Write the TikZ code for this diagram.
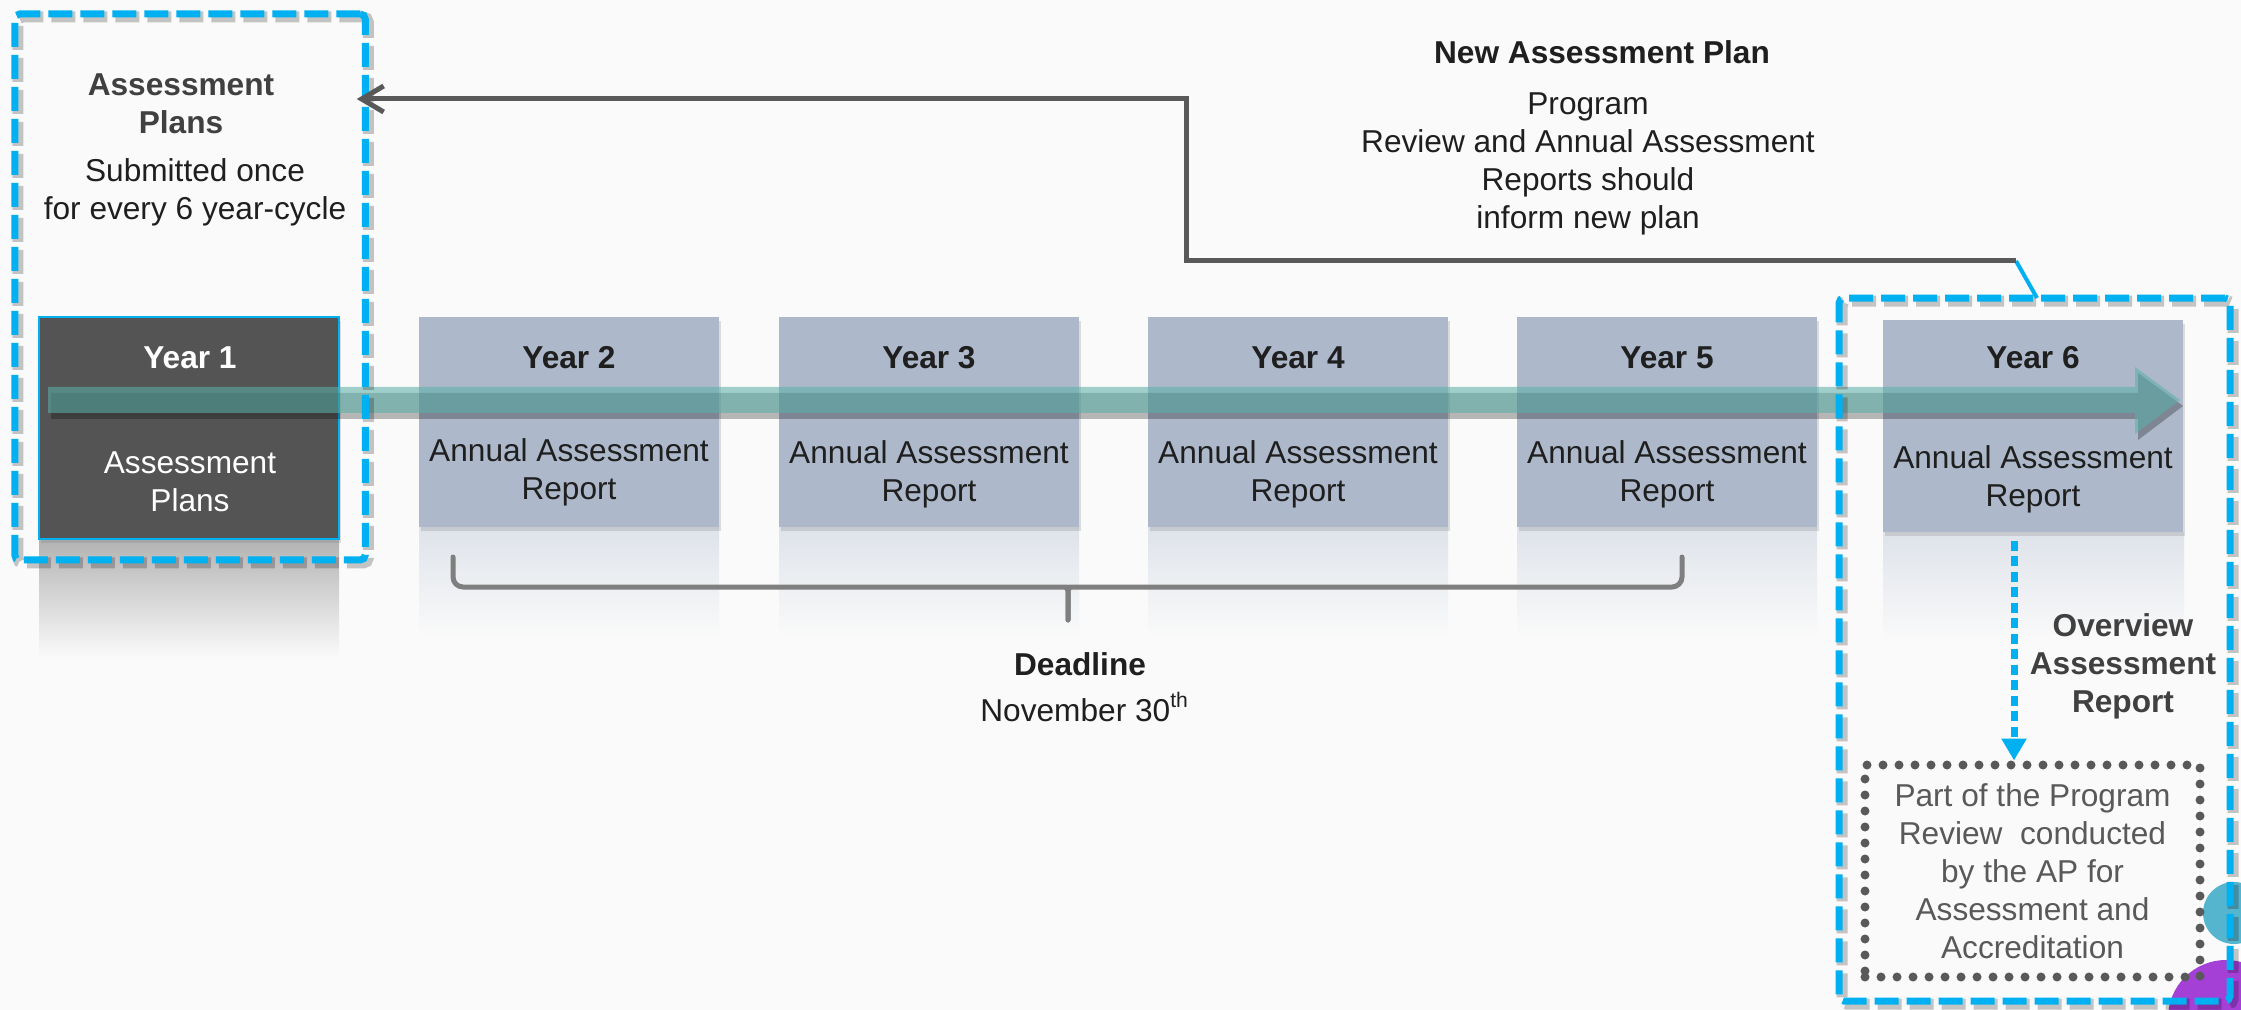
\documentclass[tikz,border=0pt]{standalone}
\usepackage{fontspec}
\setmainfont{Liberation Sans}
\usetikzlibrary{arrows.meta,shadows}

\definecolor{pagebg}{HTML}{FAFAFA}
\definecolor{yearfill}{HTML}{ADB9CA}
\definecolor{planfill}{HTML}{545454}
\definecolor{frameblue}{HTML}{00B0F0}
\definecolor{timeteal}{HTML}{5CB0A9}
\definecolor{textdark}{HTML}{1F1F1F}
\definecolor{textgray}{HTML}{404040}
\definecolor{linkgray}{HTML}{595959}
\definecolor{bracegray}{HTML}{7F7F7F}
\definecolor{tealdot}{HTML}{55B5CF}
\definecolor{purpledot}{HTML}{A540D6}

\newcommand{\diagfont}{\fontsize{9}{10.8}\selectfont}

\tikzset{
  every node/.style={font=\diagfont, inner sep=0pt, align=center},
  yearbox/.style={rectangle, fill=yearfill, minimum width=30mm, minimum height=21mm,
    drop shadow={shadow xshift=0.2mm, shadow yshift=-0.4mm, opacity=0.25}},
  planbox/.style={yearbox, fill=planfill, draw=frameblue, line width=0.2mm, minimum height=22.2mm},
  yeartitle/.style={font=\diagfont\bfseries, text=textdark},
  yearbody/.style={text=textdark},
  plantitle/.style={font=\diagfont\bfseries, text=white},
  planbody/.style={text=white},
  dashframe/.style={draw=frameblue, line width=0.7mm, dash pattern=on 2.4mm off 0.8mm, rounded corners=0.5mm,
    preaction={draw=black, opacity=0.22, line width=1.1mm, dash pattern=on 2.4mm off 0.8mm,
      transform canvas={xshift=0.3mm, yshift=-0.3mm}}},
  frametitle/.style={font=\diagfont\bfseries, text=textgray},
  headtext/.style={font=\diagfont\bfseries, text=textdark},
  bodytext/.style={text=textdark},
  fbline/.style={draw=linkgray, line width=0.5mm, -{Straight Barb[length=2.2mm, width=2.6mm]}},
  linkblue/.style={draw=frameblue, line width=0.4mm},
  bracket/.style={draw=bracegray, line width=0.5mm, rounded corners=1mm, line cap=round},
  dotbox/.style={draw=linkgray, line width=0.9mm, dash pattern=on 0pt off 1.6mm, line cap=round, text=linkgray},
  ovarrow/.style={draw=frameblue, line width=0.7mm, dash pattern=on 1mm off 0.55mm,
    -{Triangle[length=2.2mm, width=2.4mm]}}
}

\begin{document}
\begin{tikzpicture}[x=0.1mm, y=-0.1mm]
    % Page
    \fill[pagebg] (0,0) rectangle (2241,1010);
    \useasboundingbox (0,0) rectangle (2241,1010);

    % Reflections under the boxes
    \shade[top color=black!30, bottom color=pagebg] (39,539) rectangle (339,657);
    \shade[top color=yearfill!40, bottom color=pagebg] (419,527) rectangle (719,637);
    \shade[top color=yearfill!40, bottom color=pagebg] (779,527) rectangle (1079,637);
    \shade[top color=yearfill!40, bottom color=pagebg] (1148,527) rectangle (1448,637);
    \shade[top color=yearfill!40, bottom color=pagebg] (1517,527) rectangle (1817,637);
    \shade[top color=yearfill!40, bottom color=pagebg] (1883,532) rectangle (2184,642);

    % Year boxes
    \node[planbox] (y1) at (189,428) {};
    \node[yearbox] (y2) at (569,422) {};
    \node[yearbox] (y3) at (929,422) {};
    \node[yearbox] (y4) at (1298,422) {};
    \node[yearbox] (y5) at (1667,422) {};
    \node[yearbox, minimum height=21.2mm] (y6) at (2033,426) {};

    \node[plantitle] (y1t) at (190,358) {Year 1};
    \node[planbody] (y1b) at (190,482) {Assessment\\Plans};
    \node[yeartitle] (y2t) at (569,358) {Year 2};
    \node[yearbody] (y2b) at (569,472) {Annual Assessment\\Report};
    \node[yeartitle] (y3t) at (929,358) {Year 3};
    \node[yearbody] (y3b) at (929,474) {Annual Assessment\\Report};
    \node[yeartitle] (y4t) at (1298,358) {Year 4};
    \node[yearbody] (y4b) at (1298,474) {Annual Assessment\\Report};
    \node[yeartitle] (y5t) at (1667,358) {Year 5};
    \node[yearbody] (y5b) at (1667,474) {Annual Assessment\\Report};
    \node[yeartitle] (y6t) at (2033,358) {Year 6};
    \node[yearbody] (y6b) at (2033,479) {Annual Assessment\\Report};

    % Timeline arrow
    \fill[black, opacity=0.27, xshift=0.3mm, yshift=-0.6mm]
      (48,387) -- (2135,387) -- (2135,367) -- (2180,400) -- (2135,434) -- (2135,413) -- (48,413) -- cycle;
    \fill[timeteal, opacity=0.57]
      (48,387) -- (2135,387) -- (2135,367) -- (2180,400) -- (2135,434) -- (2135,413) -- (48,413) -- cycle;

    % Deadline bracket
    \draw[bracket] (453,557) -- (453,587) -- (1056,587) .. controls (1066,587) and (1068,591) .. (1068,600) -- (1068,620);
    \draw[bracket] (1068,620) -- (1068,600) .. controls (1068,591) and (1070,587) .. (1080,587) -- (1682,587) -- (1682,557);
    \node[headtext] (deadline) at (1080,664) {Deadline};
    \node[bodytext] (deadlinedate) at (1085,707) {November 30\textsuperscript{th}};

    % Left frame
    \node[dashframe, minimum width=35.05mm, minimum height=54.6mm] (plansframe) at (190,287) {};
    \node[frametitle] (planshead) at (181,104) {Assessment\\Plans};
    \node[bodytext] (planstext) at (195,192) {Submitted once\\for every 6 year-cycle};

    % Right corner dots
    \fill[tealdot] (2234,913) circle[radius=3.1mm];
    \fill[purpledot] (2226,1018) circle[radius=5.8mm];

    % Program review box
    \node[dotbox, minimum width=33.5mm, minimum height=21.2mm] (review) at (2032.5,871)
      {Part of the Program\\Review~ conducted\\by the AP for\\Assessment and\\Accreditation};
    \coordinate (ovx) at (2014,0);
    \draw[ovarrow, shorten <=0.8mm] (y6.south -| ovx) -- (review.north -| ovx);
    \node[frametitle] (overview) at (2123,666) {Overview\\Assessment\\Report};

    % Right frame
    \node[dashframe, minimum width=39.1mm, minimum height=70.3mm] (reviewframe) at (2034.5,649.5) {};

    % Feedback to the plans
    \coordinate (fbstart) at (2016,261);
    \coordinate (fbturn) at (1186,99);
    \coordinate (fbfoot) at (2037,298);
    \draw[linkblue] (fbstart) -- (fbfoot);
    \draw[fbline, shorten >=-1.2mm] (fbstart) -- (fbstart -| fbturn) -- (fbturn) -- (plansframe.east |- fbturn);
    \node[headtext] (newplan) at (1602,52) {New Assessment Plan};
    \node[bodytext] (newplantext) at (1588,164) {Program\\Review and Annual Assessment\\Reports should\\inform new plan};
\end{tikzpicture}
\end{document}
